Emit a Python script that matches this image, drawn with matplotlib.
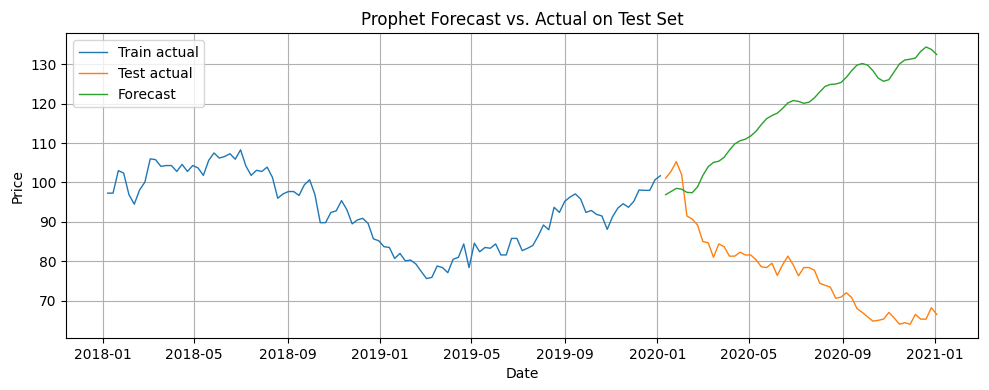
import numpy as np
import pandas as pd
import matplotlib
matplotlib.use("Agg")
import matplotlib.pyplot as plt

# weekly dates (Sundays)
train_start = "2018-01-07"
test_start = "2020-01-12"

train_values = [
    97.3, 97.3, 103.0, 102.4, 96.9, 94.5, 98.1, 100.1, 106.0, 105.8,
    104.1, 104.3, 104.3, 102.8, 104.6, 102.8, 104.3, 103.7, 101.8, 105.6,
    107.5, 106.2, 106.6, 107.3, 105.9, 108.3, 104.2, 101.8, 103.1, 102.8,
    103.9, 101.3, 96.0, 97.1, 97.7, 97.7, 96.7, 99.4, 100.7, 96.9,
    89.8, 89.8, 92.4, 92.8, 95.4, 93.1, 89.5, 90.5, 90.9, 89.6,
    85.7, 85.2, 83.7, 83.5, 80.7, 82.0, 80.1, 80.3, 79.3, 77.4,
    75.6, 75.9, 78.8, 78.4, 77.1, 80.5, 81.0, 84.4, 78.4, 84.6,
    82.4, 83.5, 83.3, 84.4, 81.6, 81.6, 85.8, 85.8, 82.7, 83.3,
    84.0, 86.4, 89.2, 88.0, 93.7, 92.4, 95.2, 96.3, 97.1, 95.8,
    92.4, 92.9, 91.9, 91.5, 88.1, 91.3, 93.5, 94.6, 93.7, 95.2,
    98.1, 98.0, 98.0, 100.7, 101.7,
]

test_values = [
    101.1, 102.8, 105.3, 102.0, 91.5, 90.7, 89.2, 85.0, 84.7, 81.0,
    84.4, 83.7, 81.3, 81.3, 82.3, 81.6, 81.6, 80.4, 78.6, 78.4,
    79.5, 76.4, 79.1, 81.3, 79.1, 76.3, 78.4, 78.4, 77.7, 74.4,
    73.9, 73.4, 70.6, 70.9, 72.0, 70.8, 68.0, 67.0, 65.9, 64.8,
    65.0, 65.3, 67.0, 65.6, 64.0, 64.4, 64.0, 66.5, 65.3, 65.3,
    68.2, 66.5,
]

forecast_values = [
    96.9, 97.7, 98.5, 98.3, 97.5, 97.4, 98.9, 101.8, 104.0, 105.1,
    105.4, 106.4, 108.2, 109.8, 110.6, 111.0, 111.8, 113.0, 114.7, 116.2,
    117.0, 117.6, 118.8, 120.2, 120.8, 120.6, 120.1, 120.4, 121.5, 123.0,
    124.4, 124.9, 125.0, 125.4, 126.7, 128.4, 129.8, 130.2, 129.8, 128.4,
    126.5, 125.7, 126.1, 128.1, 130.1, 131.1, 131.3, 131.6, 133.3, 134.4,
    133.8, 132.5,
]

train_dates = pd.date_range(train_start, periods=len(train_values), freq="7D")
test_dates = pd.date_range(test_start, periods=len(test_values), freq="7D")

fig, ax = plt.subplots(figsize=(9.89, 3.90), dpi=100)
ax.plot(train_dates, train_values, color="#1f77b4", linewidth=1, label="Train actual")
ax.plot(test_dates, test_values, color="#ff7f0e", linewidth=1, label="Test actual")
ax.plot(test_dates, forecast_values, color="#2ca02c", linewidth=1, label="Forecast")

ax.set_title("Prophet Forecast vs. Actual on Test Set")
ax.set_xlabel("Date")
ax.set_ylabel("Price")
ax.grid(True)
ax.legend(loc="upper left")

plt.subplots_adjust(left=0.067, right=0.989, top=0.915, bottom=0.133)
plt.savefig("out.png")
